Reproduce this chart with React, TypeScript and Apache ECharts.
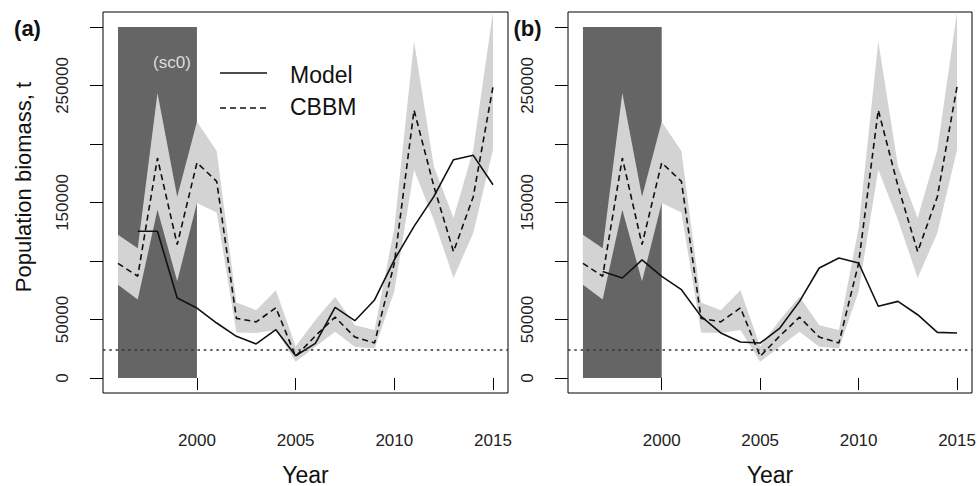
import React, { useEffect, useRef } from "react";
import * as echarts from "echarts";

// ---- data ----
const years = [1996, 1997, 1998, 1999, 2000, 2001, 2002, 2003, 2004, 2005, 2006, 2007, 2008, 2009, 2010, 2011, 2012, 2013, 2014, 2015];
const cbbm = [98000, 87000, 188000, 114000, 184000, 168000, 51000, 48000, 60000, 18500, 36000, 52000, 35000, 30000, 98000, 229000, 164000, 108000, 155000, 249000];
const cbbmUpper = [122500, 111000, 243600, 155000, 219000, 194000, 64500, 58000, 75000, 27000, 49500, 69500, 45000, 41000, 128000, 287700, 181000, 136700, 195000, 313000];
const cbbmLower = [79800, 67000, 143900, 82600, 149600, 141500, 39000, 38400, 41000, 14000, 26800, 39600, 26800, 25300, 74000, 178000, 135000, 85500, 124000, 195000];
const modelYears = [1997, 1998, 1999, 2000, 2001, 2002, 2003, 2004, 2005, 2006, 2007, 2008, 2009, 2010, 2011, 2012, 2013, 2014, 2015];
const modelA = [125400, 125400, 68400, 59800, 47000, 35600, 29100, 41300, 19000, 29600, 60400, 49000, 66700, 101000, 129600, 155000, 186600, 190300, 165200];
const modelB = [91000, 85500, 101000, 86900, 75500, 52700, 38500, 30800, 29900, 42700, 65500, 94000, 102600, 98300, 61300, 65500, 54100, 39000, 38500];
const threshold = 24000;
const sc0Start = 1996;
const sc0End = 2000;
const sc0Top = 300000;
const yTicks = [0, 50000, 100000, 150000, 200000, 250000, 300000];
const yTickLabels = [0, 50000, 150000, 250000];
const xTicks = [2000, 2005, 2010, 2015];
const panelLetters = ["(a)", "(b)"];

const FONT = "Liberation Sans, Arial, Helvetica, sans-serif";

export default function App() {
  const ref = useRef<HTMLDivElement>(null);
  useEffect(() => {
    if (!ref.current) return;
    const chart = echarts.init(ref.current, null, { renderer: "svg" });
    const models = [modelA, modelB];
    const grids = [
      { left: 103, top: 12, width: 405, height: 381 },
      { left: 568, top: 12, width: 404, height: 381 },
    ];
    const xAxes: any[] = [];
    const yAxes: any[] = [];
    const series: any[] = [];
    grids.forEach((g, i) => {
      xAxes.push({
        gridIndex: i,
        type: "value",
        min: 1995.24,
        max: 2015.76,
        axisLine: { show: false },
        splitLine: { show: false },
        axisTick: { show: true, length: 12, customValues: xTicks, lineStyle: { color: "#000", width: 1 } },
        axisLabel: {
          show: true,
          customValues: xTicks,
          margin: 39,
          fontSize: 17,
          color: "#222",
          fontFamily: FONT,
          formatter: (v: number) => String(v),
        },
        name: "Year",
        nameLocation: "middle",
        nameGap: 70,
        nameTextStyle: { fontSize: 23, color: "#111", fontFamily: FONT },
      });
      yAxes.push({
        gridIndex: i,
        type: "value",
        min: -12800,
        max: 312800,
        axisLine: { show: false },
        splitLine: { show: false },
        axisTick: { show: true, length: 13, customValues: yTicks, lineStyle: { color: "#000", width: 1 } },
        axisLabel: {
          show: true,
          customValues: yTickLabels,
          rotate: 90,
          margin: 32,
          fontSize: 17,
          color: "#222",
          fontFamily: FONT,
          formatter: (v: number) => String(v),
        },
      });
      // dark sc0 block
      series.push({
        type: "line",
        name: "sc0" + i,
        xAxisIndex: i,
        yAxisIndex: i,
        symbol: "none",
        z: 1,
        data: [],
        markArea: {
          silent: true,
          itemStyle: { color: "#656565", opacity: 1 },
          data: [[{ coord: [sc0Start, 0] }, { coord: [sc0End, sc0Top] }]],
        },
      });
      // CBBM confidence band
      series.push({
        type: "custom",
        name: "band" + i,
        xAxisIndex: i,
        yAxisIndex: i,
        z: 2,
        clip: true,
        silent: true,
        data: [[years[0], cbbmLower[0]]],
        renderItem: (params: any, api: any) => {
          const pts: number[][] = [];
          years.forEach((y, k) => pts.push(api.coord([y, cbbmUpper[k]])));
          for (let k = years.length - 1; k >= 0; k--) pts.push(api.coord([years[k], cbbmLower[k]]));
          return {
            type: "polygon",
            shape: { points: pts },
            style: { fill: "#d3d3d3", stroke: "none" },
          };
        },
      });
      series.push({
        type: "line",
        name: "CBBM",
        xAxisIndex: i,
        yAxisIndex: i,
        symbol: "none",
        z: 3,
        data: years.map((y, k) => [y, cbbm[k]]),
        lineStyle: { color: "#111", width: 1.6, type: [6, 4] },
      });
      series.push({
        type: "line",
        name: "Model",
        xAxisIndex: i,
        yAxisIndex: i,
        symbol: "none",
        z: 4,
        data: modelYears.map((y, k) => [y, models[i][k]]),
        lineStyle: { color: "#111", width: 1.6, type: "solid" },
        markLine: {
          silent: true,
          symbol: "none",
          label: { show: false },
          lineStyle: { color: "#333", width: 1.6, type: [2.5, 3.8] },
          data: [{ yAxis: threshold }],
        },
      });
    });

    chart.setOption({
      animation: false,
      backgroundColor: "#fff",
      grid: grids.map((g) => ({
        ...g,
        outerBoundsMode: "none",
        containLabel: false,
        show: true,
        borderColor: "#000",
        borderWidth: 1,
        backgroundColor: "transparent",
      })),
      xAxis: xAxes,
      yAxis: yAxes,
      series,
      graphic: [
        {
          type: "text",
          x: 23,
          y: 187,
          rotation: Math.PI / 2,
          style: { text: "Population biomass, t", font: `22px ${FONT}`, fill: "#111", align: "center", verticalAlign: "middle" },
        },
        {
          type: "text",
          x: 27.5,
          y: 28,
          style: { text: panelLetters[0], font: `bold 22px ${FONT}`, fill: "#111", align: "center", verticalAlign: "middle" },
        },
        {
          type: "text",
          x: 527.5,
          y: 28,
          style: { text: panelLetters[1], font: `bold 22px ${FONT}`, fill: "#111", align: "center", verticalAlign: "middle" },
        },
        {
          type: "text",
          x: 172,
          y: 62,
          z: 10,
          style: { text: "(sc0)", font: `17px ${FONT}`, fill: "#dcdcdc", align: "center", verticalAlign: "middle" },
        },
        {
          type: "line",
          z: 10,
          shape: { x1: 220, y1: 73, x2: 267, y2: 73 },
          style: { stroke: "#111", lineWidth: 1.5 },
        },
        {
          type: "line",
          z: 10,
          shape: { x1: 220, y1: 108, x2: 267, y2: 108 },
          style: { stroke: "#111", lineWidth: 1.5, lineDash: [6, 4] },
        },
        {
          type: "text",
          x: 290,
          y: 75,
          z: 10,
          style: { text: "Model", font: `23px ${FONT}`, fill: "#111", align: "left", verticalAlign: "middle" },
        },
        {
          type: "text",
          x: 290,
          y: 107,
          z: 10,
          style: { text: "CBBM", font: `23px ${FONT}`, fill: "#111", align: "left", verticalAlign: "middle" },
        },
      ],
    });
    return () => chart.dispose();
  }, []);
  return <div ref={ref} style={{ width: 978, height: 486, position: "absolute", left: 0, top: 0 }} />;
}
